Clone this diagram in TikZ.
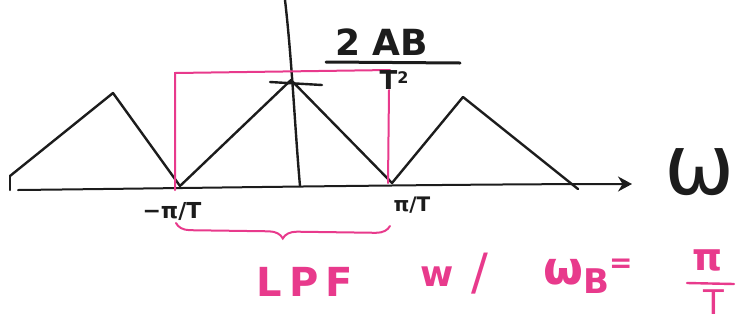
\documentclass[tikz,border=0pt]{standalone}
\usepackage{fontspec}
\setmainfont{DejaVu Sans}
\usetikzlibrary{arrows.meta,decorations.pathreplacing}
\definecolor{penpink}{RGB}{232,58,140}
\definecolor{penink}{RGB}{28,28,28}
\begin{document}
\begin{tikzpicture}[x=1pt,y=-1pt,
  ink/.style={draw=penink,line width=2.4pt,line join=round,line cap=round},
  pinkline/.style={draw=penpink,line width=2pt,line cap=round},
  lbl/.style={inner sep=0pt,text=penink},
  plbl/.style={inner sep=0pt,text=penpink}]
\useasboundingbox (0,0) rectangle (736,333);
% key points
\coordinate (axL) at (18,190);
\coordinate (axR) at (632,184);
\coordinate (tick0) at (10,176);
\coordinate (tick1) at (10,190);
\coordinate (p1) at (113,93);
\coordinate (z1) at (180,186);
\coordinate (p2) at (291,80);
\coordinate (z2) at (392,183);
\coordinate (p3) at (463,97);
\coordinate (z3) at (578,189);
\coordinate (vTop) at (285,0);
\coordinate (vBot) at (300,186);
\coordinate (hL) at (270,82);
\coordinate (hR) at (322,85);
% axis
\draw[ink,line width=2pt,-{Stealth[length=14pt,width=15pt]}] (axL) .. controls (200,188) and (450,184) .. (axR);
\draw[ink] (tick0) -- (tick1);
% vertical axis
\draw[ink] (vTop) .. controls (292,60) and (295,130) .. (vBot);
% triangles
\draw[ink] (tick0) -- (p1) -- (z1) -- (p2) -- (z2) -- (p3) -- (z3);
\draw[ink] (hL) -- (hR);
% pink filter box
\coordinate (bL) at (175,190);
\coordinate (bTL) at (175,73);
\coordinate (bTR) at (390,70);
\coordinate (bR) at (388,183);
\draw[pinkline] (bL) -- (bTL) -- (bTR);
\draw[pinkline] (389,90) -- (bR);
% gain label
\node[lbl,font=\bfseries\fontsize{36}{40}\selectfont] (gain) at (382,42) {2\hspace{12pt}AB};
\coordinate (barL) at (326,62);
\coordinate (barR) at (460,63);
\draw[ink,line width=3pt] (barL) -- (barR);
\node[lbl,font=\bfseries\fontsize{26}{28}\selectfont,anchor=north] (den) at (394,70) {T\raisebox{6pt}{\fontsize{16}{18}\selectfont 2}};
% tick labels
\node[lbl,font=\bfseries\fontsize{22}{24}\selectfont] (lm) at (172,211) {−π/T};
\node[lbl,font=\bfseries\fontsize{20}{22}\selectfont] (lp) at (412,205) {π/T};
% omega
\node[lbl,font=\fontsize{84}{88}\selectfont] (om) at (700,172) {ω};
% brace
\coordinate (brL) at (176,223);
\coordinate (brR) at (390,226);
\draw[pinkline,decorate,decoration={brace,mirror,amplitude=14pt,raise=0pt}] (brL) -- (brR);
% pink note
\node[plbl,font=\bfseries\fontsize{40}{44}\selectfont\addfontfeatures{LetterSpace=18}] (lpf) at (305,282) {LPF};
\node[plbl,font=\bfseries\fontsize{36}{40}\selectfont] (w) at (437,277) {w};
\node[plbl,font=\fontsize{50}{54}\selectfont] (sl) at (480,274) {/};
\node[plbl,font=\bfseries\fontsize{46}{50}\selectfont] (wb) at (588,276) {ω\raisebox{-9pt}{\fontsize{34}{38}\selectfont B}\raisebox{12pt}{\fontsize{28}{30}\selectfont =}};
\node[plbl,font=\bfseries\fontsize{38}{40}\selectfont] (pi) at (708,260) {π};
\coordinate (fbL) at (687,283);
\coordinate (fbR) at (734,284);
\draw[pinkline,line width=2.4pt] (fbL) -- (fbR);
\node[plbl,font=\fontsize{34}{36}\selectfont,anchor=north] (tt) at (714,290) {T};
\end{tikzpicture}
\end{document}
